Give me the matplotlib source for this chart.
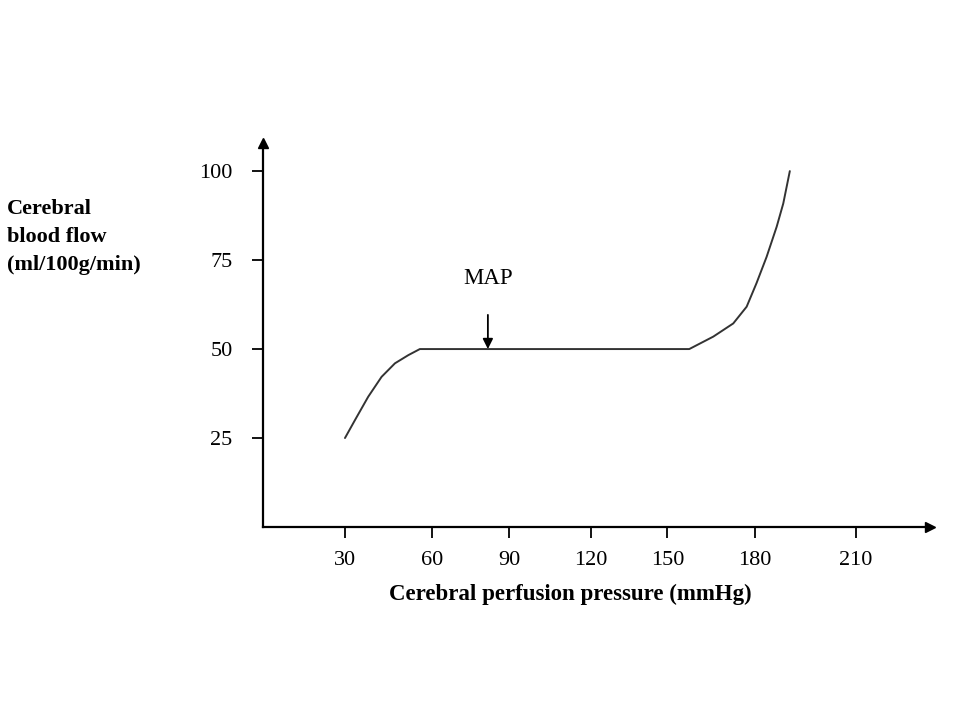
import numpy as np
import matplotlib.pyplot as plt

plt.rcParams['font.family'] = ['Liberation Serif', 'DejaVu Serif']

# autoregulation curve (x: perfusion pressure, y: blood flow)
cpp = [30, 33.7, 38.5, 43.4, 48.3, 53.2, 57.4, 156.0, 164.8, 172.1, 177.0, 180.6, 184.3, 188.0, 190.4, 192.8]
cbf = [25, 30.1, 36.6, 42.2, 46.0, 48.3, 50, 50, 53.5, 57.2, 61.9, 68.5, 75.9, 84.4, 90.9, 100]

x_tick_pos = [30, 62, 90, 120, 148, 180, 217]
x_tick_labels = ["30", "60", "90", "120", "150", "180", "210"]
y_ticks = [25, 50, 75, 100]

map_x = 82.3
map_y = 50

fig = plt.figure(figsize=(9.6, 7.2), dpi=100)
ax = fig.add_axes([263 / 960, 1 - 527 / 720, (930 - 263) / 960, (527 - 143) / 720])
ax.set_xlim(0, 244.1)
ax.set_ylim(0, 107.9)

for s in ["top", "right"]:
    ax.spines[s].set_visible(False)
for s in ["left", "bottom"]:
    ax.spines[s].set_linewidth(1.6)
    ax.spines[s].set_color("black")

# arrow heads on axes
ax.plot(1, 0, ">k", transform=ax.transAxes, clip_on=False, markersize=7)
ax.plot(0, 1, "^k", transform=ax.transAxes, clip_on=False, markersize=7)

ax.plot(cpp, cbf, color="#333333", linewidth=1.4, solid_capstyle="round", solid_joinstyle="round")

ax.set_xticks(x_tick_pos)
ax.set_xticklabels(x_tick_labels)
ax.set_yticks(y_ticks)
ax.set_yticklabels([str(v) for v in y_ticks])
ax.tick_params(axis="x", direction="out", length=8, width=1.3, pad=9, labelsize=16)
ax.tick_params(axis="y", direction="out", length=8, width=1.3, pad=14, labelsize=16)

ax.annotate("", xy=(map_x, map_y), xytext=(map_x, 59.6),
            arrowprops=dict(arrowstyle="-|>", color="black", lw=1.3, mutation_scale=15,
                            shrinkA=0, shrinkB=0))
ax.text(map_x, 69.7, "MAP", ha="center", va="center", fontsize=16.5)

fig.text(7 / 960, 1 - 237 / 720, "Cerebral\nblood flow\n(ml/100g/min)", ha="left", va="center",
         fontsize=16, fontweight="bold", linespacing=1.55)
fig.text(570 / 960, 1 - 594 / 720, "Cerebral perfusion pressure (mmHg)", ha="center", va="center",
         fontsize=16.5, fontweight="bold")

fig.savefig("out.png", dpi=100)
